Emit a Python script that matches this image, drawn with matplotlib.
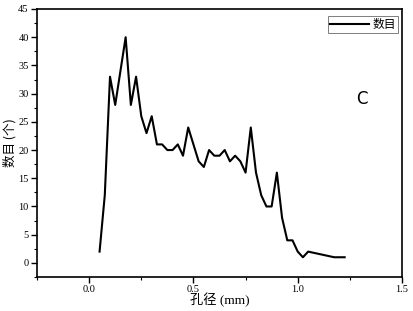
import matplotlib
matplotlib.use('Agg')
import matplotlib.pyplot as plt
from matplotlib.ticker import MultipleLocator

# pore size (mm) and count
pore_mm = [0.05, 0.075, 0.1, 0.125, 0.175, 0.2, 0.225, 0.25, 0.275, 0.3,
           0.325, 0.35, 0.375, 0.4, 0.425, 0.45, 0.475, 0.5, 0.525, 0.55,
           0.575, 0.6, 0.625, 0.65, 0.675, 0.7, 0.725, 0.75, 0.775, 0.8,
           0.825, 0.85, 0.875, 0.9, 0.925, 0.95, 0.975, 1.0, 1.025, 1.05,
           1.175, 1.225]
count = [2, 12, 33, 28, 40, 28, 33, 26, 23, 26,
         21, 21, 20, 20, 21, 19, 24, 21, 18, 17,
         20, 19, 19, 20, 18, 19, 18, 16, 24, 16,
         12, 10, 10, 16, 8, 4, 4, 2, 1, 2,
         1, 1]

xticks = [0.0, 0.5, 1.0, 1.5]
yticks = list(range(0, 50, 5))

serif = ['Liberation Serif', 'Noto Sans CJK SC']
cjk = ['Noto Sans CJK SC', 'DejaVu Sans']

fig = plt.figure(figsize=(4.13, 3.11), dpi=100)
fig.patch.set_facecolor('white')
ax = fig.add_axes([37 / 413, 1 - 277 / 311, 365 / 413, 268 / 311])

ax.plot(pore_mm, count, color='black', lw=1.5, label='数目')

ax.set_xlim(-0.25, 1.5)
ax.set_ylim(-2.5, 45)
ax.set_xticks(xticks)
ax.set_xticklabels(['0.0', '0.5', '1.0', '1.5'])
ax.set_yticks(yticks)
ax.xaxis.set_minor_locator(MultipleLocator(0.25))
ax.yaxis.set_minor_locator(MultipleLocator(2.5))

for s in ax.spines.values():
    s.set_linewidth(1.2)
ax.tick_params(which='major', direction='out', length=4, width=1.0,
               labelsize=7.5, top=False, right=False, pad=2)
ax.tick_params(which='minor', direction='out', length=2.5, width=0.8,
               top=False, right=False)
for lab in ax.get_xticklabels() + ax.get_yticklabels():
    lab.set_family(serif)

ax.set_xlabel('孔径 (mm)', family=serif, fontsize=9.5, labelpad=-1)
ax.set_ylabel('数目 (个)', family=cjk, fontsize=9, labelpad=1)

leg = ax.legend(loc='upper right', prop={'family': cjk, 'size': 8.5},
                frameon=True, fancybox=False, borderpad=0.2,
                handlelength=3.3, handletextpad=0.3,
                bbox_to_anchor=(0.99, 0.975), borderaxespad=0)
leg.get_frame().set_edgecolor('#444444')
leg.get_frame().set_linewidth(0.6)

ax.text(1.31, 29, 'C', fontsize=12, family='DejaVu Sans', ha='center', va='center')

fig.savefig('out.png', dpi=100, facecolor='white')
